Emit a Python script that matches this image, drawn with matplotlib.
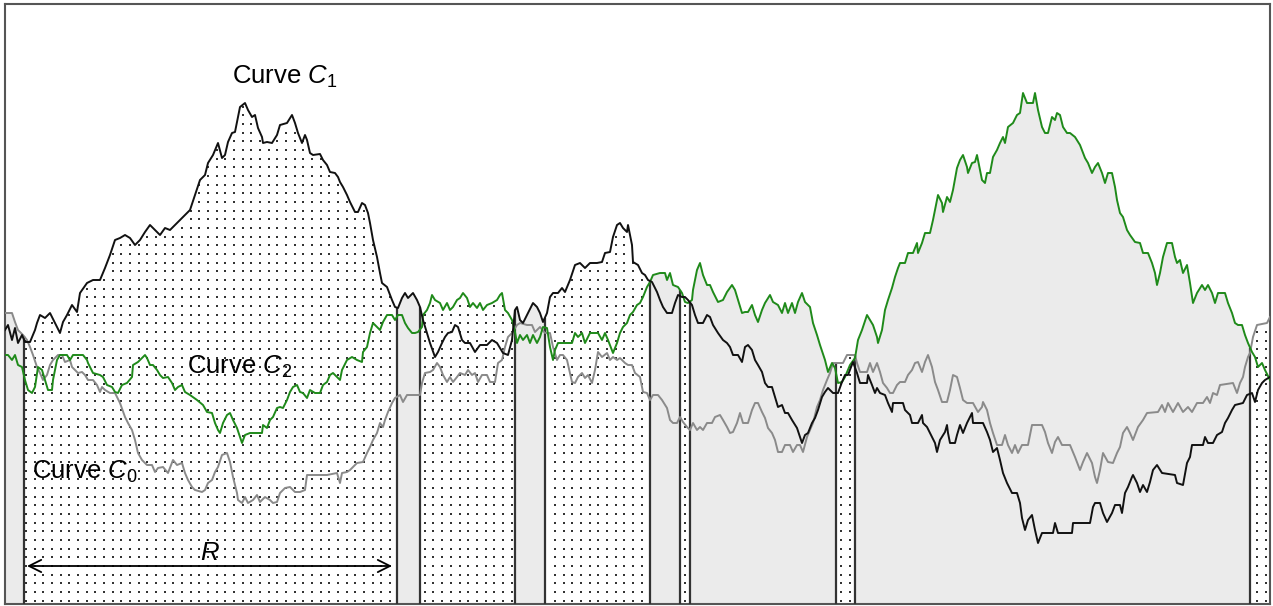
import numpy as np
import matplotlib
matplotlib.use("Agg")
import matplotlib.pyplot as plt

plt.rcParams["font.family"] = ["Liberation Sans", "DejaVu Sans"]
plt.rcParams["mathtext.fontset"] = "custom"
plt.rcParams["mathtext.rm"] = "Liberation Sans"
plt.rcParams["mathtext.it"] = "Liberation Sans:italic"

# walk position / height pairs for the three curves
curve1 = [(5, 274), (8, 279), (12, 264), (15, 276), (18, 261), (22, 269), (25, 262), (30, 262), (35, 274),
          (37, 281), (40, 289), (45, 286), (50, 291), (55, 281), (60, 271), (63, 282), (67, 289), (72, 299),
          (77, 292), (80, 311), (87, 321), (93, 324), (100, 324), (105, 336), (110, 349), (115, 364),
          (120, 366), (125, 369), (130, 366), (135, 359), (140, 364), (145, 372), (150, 379), (155, 374),
          (160, 369), (165, 376), (170, 374), (175, 379), (180, 384), (185, 389), (190, 394), (195, 409),
          (200, 424), (205, 429), (208, 441), (213, 449), (218, 461), (222, 446), (225, 449), (228, 462),
          (232, 471), (235, 472), (238, 487), (240, 497), (245, 501), (248, 494), (252, 487), (255, 489),
          (258, 476), (262, 467), (263, 461), (267, 462), (272, 461), (277, 469), (280, 479), (287, 481),
          (292, 489), (295, 481), (298, 471), (302, 461), (305, 469), (307, 464), (310, 451), (313, 449),
          (320, 450), (323, 444), (327, 439), (330, 432), (335, 431), (338, 427), (340, 422), (343, 417),
          (347, 409), (350, 402), (355, 392), (358, 392), (362, 401), (365, 399), (368, 391), (370, 381),
          (373, 364), (377, 347), (380, 331), (382, 321), (387, 317), (392, 304), (395, 297), (398, 296),
          (402, 306), (405, 311), (408, 306), (413, 311), (417, 304), (420, 297), (423, 284), (427, 271),
          (430, 261), (435, 247), (438, 252), (442, 261), (445, 267), (448, 271), (452, 272), (455, 279),
          (458, 277), (462, 264), (465, 261), (470, 261), (475, 252), (480, 259), (487, 259), (492, 264),
          (497, 261), (503, 251), (508, 249), (512, 264), (515, 294), (517, 297), (520, 284), (523, 281),
          (528, 291), (533, 301), (537, 297), (540, 291), (543, 282), (547, 291), (550, 307), (553, 311),
          (558, 311), (562, 316), (565, 312), (570, 324), (575, 339), (580, 341), (585, 336), (590, 341),
          (597, 341), (602, 342), (605, 351), (610, 352), (613, 367), (617, 379), (620, 381), (623, 376),
          (627, 372), (628, 379), (632, 359), (633, 342), (638, 339), (642, 331), (645, 329), (648, 324),
          (652, 322), (657, 312), (660, 304), (663, 297), (667, 291), (672, 291), (675, 301), (678, 309),
          (682, 307), (685, 307), (688, 304), (692, 299), (695, 289), (698, 281), (703, 281), (707, 289),
          (710, 287), (713, 279), (718, 271), (723, 264), (727, 261), (730, 257), (733, 249), (738, 249),
          (742, 242), (745, 257), (748, 259), (752, 254), (755, 244), (758, 239), (762, 232), (765, 221),
          (768, 217), (772, 217), (775, 207), (778, 197), (782, 199), (785, 191), (788, 191), (792, 184),
          (797, 176), (800, 167), (802, 161), (805, 169), (808, 171), (812, 181), (815, 186), (818, 194),
          (822, 207), (825, 212), (828, 216), (833, 211), (838, 211), (842, 222), (845, 229), (848, 229),
          (853, 242), (857, 231), (860, 221), (867, 221), (868, 229), (872, 219), (875, 211), (877, 216),
          (880, 211), (885, 209), (888, 201), (892, 192), (893, 201), (903, 201), (905, 194), (910, 189),
          (912, 181), (918, 181), (922, 189), (923, 181), (927, 177), (930, 171), (935, 161), (937, 152),
          (940, 164), (945, 172), (947, 179), (948, 171), (950, 161), (955, 161), (957, 169), (960, 179),
          (963, 171), (967, 181), (970, 187), (972, 191), (973, 181), (983, 181), (987, 172), (990, 164),
          (993, 152), (997, 156), (1000, 144), (1003, 131), (1007, 121), (1012, 111), (1017, 111),
          (1020, 101), (1022, 86), (1025, 74), (1028, 84), (1032, 89), (1035, 74), (1038, 61), (1042, 71),
          (1053, 71), (1055, 81), (1058, 71), (1072, 71), (1073, 81), (1090, 81), (1093, 97), (1095, 101),
          (1100, 101), (1103, 91), (1107, 82), (1112, 91), (1115, 99), (1120, 99), (1122, 91), (1125, 111),
          (1128, 117), (1132, 127), (1133, 129), (1137, 121), (1140, 112), (1143, 119), (1147, 112),
          (1150, 122), (1153, 134), (1157, 139), (1162, 131), (1175, 129), (1177, 121), (1183, 119),
          (1187, 141), (1190, 147), (1192, 159), (1203, 159), (1205, 167), (1208, 161), (1213, 161),
          (1217, 169), (1222, 172), (1225, 181), (1228, 186), (1232, 194), (1235, 199), (1243, 201),
          (1247, 209), (1252, 211), (1255, 202), (1258, 214), (1262, 221), (1265, 224), (1270, 227)]

curve2 = [(5, 249), (8, 249), (12, 244), (15, 249), (18, 239), (22, 237), (25, 224), (28, 214), (32, 211),
          (35, 217), (38, 237), (42, 234), (45, 224), (48, 214), (52, 214), (53, 224), (57, 244), (60, 249),
          (67, 249), (70, 244), (73, 249), (83, 249), (87, 244), (88, 241), (93, 231), (100, 229), (103, 227),
          (107, 219), (112, 217), (115, 212), (118, 211), (122, 219), (127, 221), (132, 227), (133, 239),
          (138, 242), (143, 247), (145, 249), (147, 246), (150, 239), (153, 239), (157, 234), (160, 229),
          (163, 226), (168, 227), (172, 221), (175, 214), (178, 217), (182, 219), (185, 212), (190, 209),
          (197, 204), (203, 199), (207, 192), (212, 191), (215, 181), (218, 174), (220, 171), (223, 181),
          (227, 189), (230, 191), (233, 184), (237, 176), (240, 167), (242, 161), (245, 169), (250, 171),
          (262, 171), (263, 179), (267, 176), (270, 184), (273, 187), (277, 196), (280, 197), (283, 196),
          (287, 204), (290, 212), (293, 217), (297, 219), (300, 212), (303, 211), (307, 206), (310, 214),
          (315, 211), (320, 211), (323, 219), (327, 222), (330, 229), (333, 231), (337, 227), (340, 224),
          (342, 234), (347, 244), (352, 247), (357, 244), (362, 242), (363, 252), (367, 257), (370, 271),
          (373, 281), (377, 277), (380, 274), (383, 282), (387, 289), (392, 289), (395, 284), (398, 289),
          (402, 289), (405, 281), (408, 276), (412, 271), (415, 271), (418, 272), (422, 277), (423, 289),
          (427, 294), (430, 301), (432, 309), (435, 304), (440, 301), (443, 294), (447, 301), (450, 294),
          (453, 297), (457, 304), (460, 306), (463, 311), (467, 306), (470, 297), (473, 301), (477, 296),
          (480, 301), (483, 294), (487, 299), (492, 301), (497, 304), (500, 309), (502, 311), (505, 294),
          (508, 291), (512, 284), (515, 272), (517, 261), (520, 269), (523, 264), (527, 269), (530, 261),
          (533, 269), (537, 261), (540, 267), (543, 277), (547, 276), (550, 257), (553, 244), (555, 254),
          (558, 261), (572, 261), (575, 271), (578, 267), (582, 271), (585, 261), (590, 271), (598, 271),
          (602, 264), (605, 271), (608, 264), (613, 251), (617, 261), (620, 271), (623, 277), (627, 281),
          (630, 289), (633, 292), (637, 299), (640, 301), (643, 307), (647, 317), (650, 322), (653, 329),
          (660, 331), (665, 331), (667, 324), (670, 331), (673, 319), (678, 317), (682, 311), (685, 302),
          (688, 301), (692, 304), (693, 314), (697, 334), (700, 341), (703, 329), (707, 319), (710, 319),
          (713, 312), (718, 302), (723, 304), (727, 312), (732, 319), (735, 314), (738, 304), (742, 291),
          (745, 292), (748, 292), (752, 299), (755, 289), (758, 282), (762, 294), (765, 301), (770, 309),
          (773, 302), (778, 299), (782, 291), (785, 301), (788, 291), (792, 301), (795, 291), (798, 302),
          (802, 311), (805, 302), (810, 297), (813, 281), (817, 269), (820, 259), (825, 244), (828, 232),
          (832, 241), (835, 236), (838, 221), (842, 222), (845, 227), (850, 239), (855, 246), (858, 264),
          (862, 274), (867, 289), (870, 284), (873, 279), (877, 267), (878, 261), (882, 274), (885, 294),
          (888, 304), (892, 316), (895, 327), (898, 336), (900, 341), (905, 341), (908, 351), (913, 351),
          (917, 361), (918, 351), (922, 361), (925, 371), (930, 371), (933, 384), (937, 404), (938, 409),
          (942, 401), (943, 392), (947, 407), (950, 402), (953, 414), (957, 436), (960, 444), (963, 449),
          (967, 437), (968, 431), (972, 441), (975, 442), (977, 449), (980, 434), (982, 424), (985, 421),
          (987, 431), (990, 431), (993, 447), (997, 454), (1000, 461), (1003, 467), (1005, 461), (1008, 477),
          (1013, 481), (1017, 489), (1020, 491), (1022, 504), (1023, 511), (1027, 501), (1033, 501),
          (1035, 511), (1038, 494), (1042, 477), (1045, 471), (1048, 471), (1052, 487), (1055, 484),
          (1057, 491), (1060, 489), (1063, 477), (1067, 471), (1070, 471), (1075, 467), (1080, 459),
          (1085, 446), (1088, 441), (1092, 431), (1095, 437), (1098, 441), (1102, 431), (1105, 421),
          (1108, 431), (1112, 431), (1115, 417), (1117, 404), (1120, 391), (1123, 387), (1127, 374),
          (1130, 369), (1135, 362), (1140, 361), (1143, 351), (1148, 351), (1152, 341), (1155, 331),
          (1157, 319), (1160, 331), (1163, 347), (1167, 361), (1172, 361), (1175, 347), (1177, 341),
          (1180, 344), (1183, 331), (1187, 339), (1190, 321), (1193, 301), (1197, 311), (1202, 319),
          (1205, 314), (1208, 319), (1212, 311), (1215, 301), (1218, 311), (1225, 311), (1228, 301),
          (1232, 291), (1235, 281), (1238, 279), (1242, 279), (1245, 269), (1248, 261), (1252, 252),
          (1255, 247), (1258, 237), (1262, 241), (1265, 234), (1270, 224)]

curve0 = [(5, 291), (12, 291), (15, 282), (18, 274), (23, 269), (27, 264), (30, 257), (33, 249), (37, 237),
          (40, 231), (43, 224), (47, 229), (50, 239), (53, 244), (58, 249), (62, 249), (65, 242), (70, 244),
          (72, 237), (75, 234), (78, 231), (82, 232), (85, 229), (88, 224), (93, 224), (97, 219), (100, 212),
          (102, 217), (105, 214), (110, 211), (115, 211), (120, 201), (125, 187), (128, 181), (132, 174),
          (135, 164), (138, 151), (142, 144), (147, 139), (152, 139), (155, 132), (158, 136), (163, 137),
          (168, 131), (173, 144), (177, 139), (182, 141), (185, 131), (188, 124), (192, 117), (195, 114),
          (202, 112), (205, 114), (208, 121), (212, 124), (215, 132), (218, 137), (222, 149), (227, 151),
          (230, 142), (233, 127), (237, 111), (238, 104), (242, 101), (245, 107), (248, 101), (253, 104),
          (257, 109), (260, 102), (265, 107), (270, 104), (273, 101), (277, 102), (280, 111), (285, 116),
          (290, 117), (295, 112), (300, 112), (305, 114), (307, 129), (327, 129), (337, 131), (340, 121),
          (342, 131), (347, 132), (350, 134), (353, 137), (357, 141), (363, 142), (367, 151), (370, 157),
          (373, 164), (377, 171), (380, 181), (383, 177), (385, 184), (388, 192), (392, 201), (395, 206),
          (400, 209), (403, 202), (407, 209), (420, 209), (422, 221), (425, 231), (430, 232), (433, 234),
          (437, 241), (440, 237), (443, 229), (447, 222), (450, 227), (453, 222), (457, 227), (460, 231),
          (465, 229), (468, 234), (472, 229), (475, 231), (478, 222), (482, 229), (487, 229), (490, 222),
          (495, 222), (498, 241), (502, 244), (505, 257), (508, 267), (512, 271), (517, 279), (520, 281),
          (527, 279), (532, 279), (535, 272), (540, 277), (545, 271), (550, 271), (553, 257), (557, 244),
          (560, 249), (563, 249), (567, 244), (572, 222), (575, 221), (578, 227), (582, 231), (585, 226),
          (588, 229), (592, 221), (595, 234), (598, 252), (602, 247), (607, 251), (610, 244), (613, 247),
          (617, 244), (620, 246), (625, 241), (628, 239), (632, 239), (635, 231), (640, 227), (643, 212),
          (647, 211), (650, 204), (653, 209), (658, 209), (662, 204), (667, 196), (670, 184), (673, 181),
          (677, 181), (680, 187), (683, 182), (687, 177), (690, 174), (693, 181), (697, 174), (700, 177),
          (703, 174), (707, 181), (712, 181), (715, 187), (720, 189), (723, 184), (727, 177), (730, 171),
          (733, 172), (737, 181), (740, 191), (743, 181), (748, 181), (752, 194), (755, 201), (758, 201),
          (762, 192), (765, 186), (768, 176), (772, 171), (775, 164), (778, 152), (782, 152), (785, 159),
          (790, 159), (793, 152), (797, 159), (800, 159), (803, 152), (807, 167), (810, 174), (813, 181),
          (817, 197), (820, 204), (823, 214), (827, 224), (830, 231), (833, 241), (843, 241), (847, 249),
          (855, 249), (857, 241), (860, 232), (867, 232), (870, 241), (873, 232), (877, 241), (880, 232),
          (883, 221), (887, 216), (890, 211), (893, 211), (897, 219), (900, 222), (905, 222), (908, 229),
          (912, 234), (915, 241), (918, 242), (922, 232), (925, 242), (928, 249), (932, 237), (935, 222),
          (938, 214), (942, 202), (947, 202), (950, 214), (953, 229), (957, 227), (960, 216), (963, 204),
          (967, 201), (973, 201), (978, 192), (982, 197), (983, 202), (987, 194), (990, 181), (993, 171),
          (997, 159), (1002, 159), (1005, 169), (1008, 159), (1012, 151), (1015, 159), (1018, 151),
          (1022, 159), (1028, 159), (1032, 179), (1042, 179), (1045, 172), (1048, 161), (1052, 151),
          (1055, 162), (1058, 167), (1062, 159), (1070, 159), (1075, 147), (1080, 134), (1083, 142),
          (1087, 151), (1092, 141), (1095, 127), (1097, 121), (1100, 134), (1103, 151), (1108, 142),
          (1113, 141), (1117, 151), (1120, 157), (1123, 171), (1127, 177), (1130, 171), (1133, 164),
          (1138, 177), (1143, 184), (1147, 191), (1158, 192), (1162, 199), (1165, 192), (1168, 201),
          (1173, 192), (1178, 201), (1183, 192), (1188, 197), (1192, 192), (1197, 201), (1203, 201),
          (1207, 207), (1210, 201), (1213, 211), (1217, 209), (1220, 219), (1233, 221), (1237, 211),
          (1240, 221), (1243, 227), (1245, 237), (1248, 247), (1250, 251), (1253, 267), (1257, 279),
          (1267, 281), (1270, 287)]

# edges of the alternating shaded / dotted stretches
region_edges = [5, 24, 397, 420, 515, 545, 650, 680, 690, 836, 855, 1250, 1270]

fig = plt.figure(figsize=(12.73, 6.06), dpi=100)
ax = fig.add_axes([5 / 1273, 2 / 606, 1265 / 1273, 600 / 606])
ax.set_xlim(5, 1270)
ax.set_ylim(0, 600)
ax.set_xticks([])
ax.set_yticks([])
for sp in ax.spines.values():
    sp.set_color("#555555")
    sp.set_linewidth(1.5)

c0 = np.array(curve0, dtype=float)
c1 = np.array(curve1, dtype=float)
c2 = np.array(curve2, dtype=float)


def upper(x):
    return np.maximum.reduce([np.interp(x, c[:, 0], c[:, 1]) for c in (c0, c1, c2)])


# dot lattice used for the dotted stretches
gx = np.arange(26.0, 1270, 8.67)
gy = np.arange(3.3, 600, 8.67)
GX, GY = np.meshgrid(gx, gy)
GX, GY = GX.ravel(), GY.ravel()
top_g = upper(GX)

for i in range(len(region_edges) - 1):
    a, b = region_edges[i], region_edges[i + 1]
    xs = np.linspace(a, b, int((b - a) * 2) + 2)
    top = upper(xs)
    if i % 2 == 0:
        ax.fill_between(xs, 0, top, color="#ebebeb", lw=0, zorder=1)
    else:
        m = (GX > a + 1.5) & (GX < b - 1.5) & (GY < top_g - 1.5)
        ax.scatter(GX[m], GY[m], s=2.2, marker="s", color="#333333", lw=0, zorder=2)

for e in region_edges[1:-1]:
    ax.plot([e, e], [0, upper(e)], color="#333333", lw=1.6, zorder=3, solid_capstyle="butt")

ax.plot(c0[:, 0], c0[:, 1], color="#8a8a8a", lw=1.4, zorder=4)
ax.plot(c2[:, 0], c2[:, 1], color="#1f8a1a", lw=1.4, zorder=5)
ax.plot(c1[:, 0], c1[:, 1], color="#111111", lw=1.4, zorder=6)

ax.text(285, 527, "Curve $C_{\\mathrm{1}}$", fontsize=18.5, ha="center", va="center", zorder=7)
ax.text(240, 237, "Curve $C_{\\mathrm{2}}$", fontsize=18.5, ha="center", va="center", zorder=7)
ax.text(85, 132, "Curve $C_{\\mathrm{0}}$", fontsize=18.5, ha="center", va="center", zorder=7)

ax.annotate("", xy=(27, 38), xytext=(392, 38),
            arrowprops=dict(arrowstyle="<->,head_length=0.4,head_width=0.2", lw=1.3,
                            color="k", mutation_scale=22, shrinkA=0, shrinkB=0), zorder=7)
ax.text(210, 51, "$R$", fontsize=18.5, ha="center", va="center", zorder=7)

fig.savefig("out.png", dpi=100)
